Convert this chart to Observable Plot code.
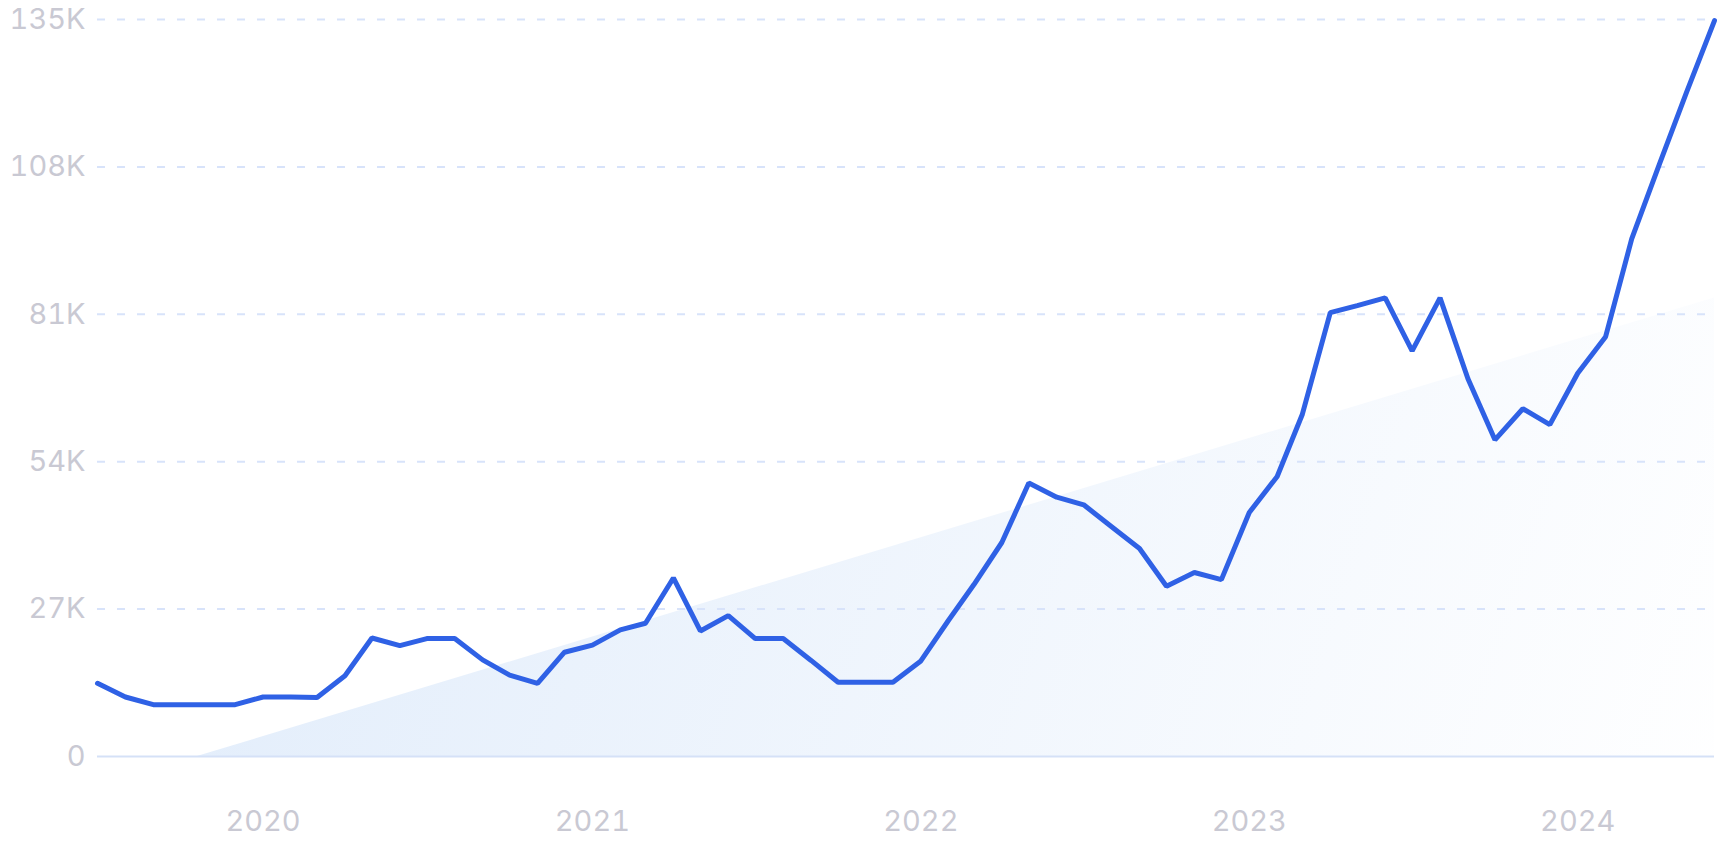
<!DOCTYPE html>
<html><head><meta charset="utf-8">
<script src="https://cdn.jsdelivr.net/npm/d3@7"></script>
<script src="https://cdn.jsdelivr.net/npm/@observablehq/plot@0.6"></script>
<style>
html,body{margin:0;padding:0;background:#fff;}
#chart svg text{font-family:Inter,Roboto,"Noto Sans",sans-serif;font-weight:400;}
</style></head><body><div id="chart"></div>
<script>
// Monthly values (thousands), July 2019 – June 2024
const startMonth = "2019-07-01";
const values = [13.4,10.9,9.5,9.5,9.5,9.5,10.9,10.9,10.8,14.8,21.7,20.3,
  21.6,21.6,17.7,14.9,13.4,19.1,20.4,23.2,24.4,32.7,23.0,25.8,
  21.6,21.6,17.6,13.6,13.6,13.6,17.5,25.0,31.5,39.2,50.1,47.5,
  46.1,42.1,38.1,31.2,33.7,32.4,44.7,51.3,62.7,81.3,82.6,84.0,
  74.3,84.0,69.2,58.0,63.7,60.8,70.2,76.9,94.8,108.6,121.7,134.8];
const yTicks = [0,27000,54000,81000,108000,135000];
const yTickLabels = ["0","27K","54K","81K","108K","135K"];
const xTicks = ["2020-01-01","2021-01-01","2022-01-01","2023-01-01","2024-01-01"];
const xTickLabels = ["2020","2021","2022","2023","2024"];
const trendDates = ["2019-10-20","2024-06-01"];
const trendValues = [0,84000];

const start = new Date(startMonth);
const months = d3.utcMonth.range(start, d3.utcMonth.offset(start, values.length));
const data = values.map((v,i)=>({date:months[i], value:v*1000}));
const trend = trendDates.map((d,i)=>({date:new Date(d), value:trendValues[i]}));
const xTickDates = xTicks.map(d=>new Date(d));

const defs = () => {
  const s = d3.create("svg:defs");
  const g = s.append("linearGradient").attr("id","trendGrad")
    .attr("gradientUnits","userSpaceOnUse")
    .attr("x1",200).attr("y1",400).attr("x2",1714).attr("y2",900);
  g.append("stop").attr("offset",0).attr("stop-color","#e2edfb");
  g.append("stop").attr("offset",1).attr("stop-color","#ffffff");
  return s.node();
};

const chart = Plot.plot({
  width:1720, height:860,
  marginLeft:97, marginRight:6, marginTop:19, marginBottom:104,
  x:{type:"utc", domain:[months[0], months[months.length-1]]},
  y:{domain:[0,135000]},
  style:{background:"transparent", overflow:"visible"},
  marks:[
    defs,
    Plot.areaY(trend, {x:"date", y:"value", fill:"url(#trendGrad)"}),
    Plot.ruleY(yTicks.filter(d=>d>0), {stroke:"#d8e3fa", strokeWidth:2, strokeDasharray:"8,12"}),
    Plot.ruleY([0], {stroke:"#d5e1f7", strokeWidth:2}),
    Plot.lineY(data, {x:"date", y:"value", stroke:"#2f61e5", strokeWidth:5, strokeLinejoin:"miter"}),
    Plot.axisY(yTicks, {label:null, tickSize:0, tickPadding:12, fontSize:29, fill:"#c9c9d3",
      tickFormat:d=>yTickLabels[yTicks.indexOf(d)]}),
    Plot.axisX(xTickDates, {label:null, tickSize:0, tickPadding:54, fontSize:29, fill:"#c9c9d3",
      tickFormat:d=>xTickLabels[xTickDates.findIndex(t=>+t===+d)]})
  ]
});
document.getElementById("chart").appendChild(chart);
</script></body></html>
